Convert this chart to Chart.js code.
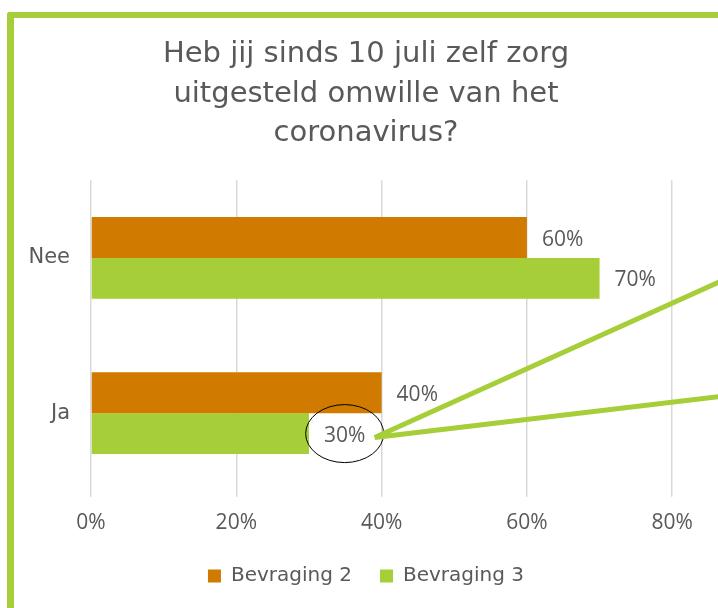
<!DOCTYPE html>
<html>
<head>
<meta charset="utf-8">
<script src="https://cdn.jsdelivr.net/npm/chart.js@4"></script>
<style>
  html, body { margin: 0; padding: 0; background: #fff; overflow: hidden; }
  body { width: 718px; height: 608px; position: relative; }
  #frame {
    position: absolute; left: 7px; top: 12px; right: -20px; bottom: -20px;
    border-left: 7px solid #A6CE39; border-top: 6px solid #A6CE39;
    border-top-left-radius: 3px;
  }
  #myBarChart { position: absolute; left: 14px; top: 18px; }
</style>
</head>
<body>
<div id="frame"></div>
<canvas id="myBarChart" width="704" height="578"></canvas>
<script>
// Categories and series values (percentages)
const categories = ["Nee", "Ja"];
const bevraging2 = [60, 40];
const bevraging3 = [70, 30];
const seriesNames = ["Bevraging 2", "Bevraging 3"];
const xTicks = [0, 20, 40, 60, 80];

const textGrey = '#595959';
const sansFont = '"DejaVu Sans", Verdana, sans-serif';
const numFont = '"Open Sans", sans-serif';

// Labels at the end of each bar, plus the circle and callout lines round the 30% label
const barLabels = {
    id: 'barLabels',
    afterDatasetsDraw(chart) {
        const ctx = chart.ctx;
        ctx.save();
        ctx.font = '21px ' + numFont;
        ctx.fillStyle = textGrey;
        ctx.textAlign = 'left';
        ctx.textBaseline = 'middle';
        chart.data.datasets.forEach((ds, i) => {
            chart.getDatasetMeta(i).data.forEach((bar, j) => {
                ctx.fillText(ds.data[j] + '%', bar.x + 15, bar.y + 2);
            });
        });

        // callout on Bevraging 3 / Ja
        const bar = chart.getDatasetMeta(1).data[1];
        const w = ctx.measureText(bevraging3[1] + '%').width;
        const cx = bar.x + 15 + w / 2;
        const cy = bar.y;
        ctx.beginPath();
        ctx.ellipse(cx, cy, 39, 29, 0, 0, Math.PI * 2);
        ctx.strokeStyle = '#000';
        ctx.lineWidth = 1;
        ctx.stroke();

        const sx = cx + 33, sy = cy + 4;
        ctx.strokeStyle = '#A6CE39';
        ctx.lineWidth = 5;
        ctx.lineCap = 'butt';
        ctx.beginPath();
        ctx.moveTo(sx - 3, sy);
        ctx.lineTo(chart.width + 2, sy - 156);
        ctx.moveTo(sx - 3, sy);
        ctx.lineTo(chart.width + 2, sy - 41);
        ctx.stroke();
        ctx.restore();
    }
};

const bar_config = {
    type: 'bar',
    data: {
        labels: categories,
        datasets: [
            { label: seriesNames[0], data: bevraging2, backgroundColor: '#D07B00' },
            { label: seriesNames[1], data: bevraging3, backgroundColor: '#A6CE39' }
        ]
    },
    options: {
        indexAxis: 'y',
        responsive: false,
        animation: false,
        layout: { padding: { left: 0, right: 0, top: 0, bottom: 0 } },
        datasets: {
            bar: { categoryPercentage: 0.526, barPercentage: 1.0 }
        },
        plugins: {
            title: {
                display: true,
                text: ['Heb jij sinds 10 juli zelf zorg', 'uitgesteld omwille van het', 'coronavirus?'],
                color: textGrey,
                font: { family: sansFont, size: 29, weight: 'normal', lineHeight: 1.36 },
                padding: { top: 17, bottom: 27 }
            },
            legend: {
                position: 'bottom',
                labels: {
                    color: textGrey,
                    boxWidth: 13,
                    boxHeight: 13,
                    padding: 28,
                    font: { family: sansFont, size: 20 }
                }
            },
            tooltip: { enabled: false }
        },
        scales: {
            x: {
                min: 0,
                max: 86.3,
                border: { display: false },
                grid: { color: '#D9D9D9', lineWidth: 1.5, tickLength: 6 },
                afterBuildTicks(scale) {
                    scale.ticks = xTicks.map(v => ({ value: v }));
                },
                afterFit(scale) { scale.height -= 12; },
                ticks: {
                    color: textGrey,
                    padding: 14,
                    font: { family: numFont, size: 21 },
                    callback: v => v + '%'
                }
            },
            y: {
                border: { display: false },
                grid: { display: false },
                afterFit(scale) { scale.width = 77; },
                ticks: {
                    color: textGrey,
                    padding: 13,
                    font: { family: sansFont, size: 21 }
                }
            }
        }
    },
    plugins: [barLabels]
};

const myBarChart = new Chart(document.getElementById('myBarChart'), bar_config);
</script>
</body>
</html>
